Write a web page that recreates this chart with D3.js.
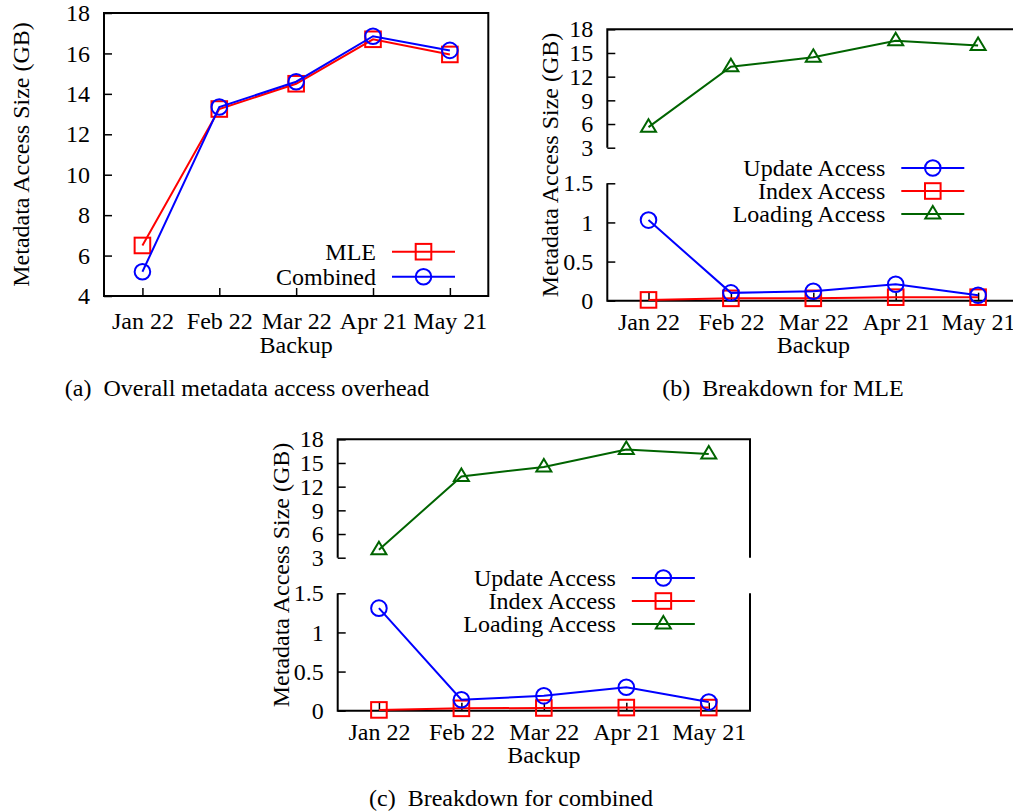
<!DOCTYPE html>
<html>
<head>
<meta charset="utf-8">
<script src="https://cdn.jsdelivr.net/npm/d3@7"></script>
<style>
  body { margin: 0; background: #fff; }
  svg { display: block; font-family: "Liberation Serif", "Times New Roman", serif; }
  .tick line { stroke: #000; stroke-width: 1.5; }
  .tick text { font-family: "Liberation Serif", "Times New Roman", serif; font-size: 24px; fill: #000; }
</style>
</head>
<body>
<svg id="fig" width="1013" height="812"></svg>
<script>
// backups on the x axis
const months = ["Jan 22", "Feb 22", "Mar 22", "Apr 21", "May 21"];

// (a) overall metadata access size (GB)
const mleTotal = [6.5, 13.25, 14.5, 16.7, 15.95];
const combinedTotal = [5.2, 13.35, 14.6, 16.85, 16.15];

// (b) breakdown for MLE
const mleUpdate = [1.03, 0.10, 0.12, 0.21, 0.07];
const mleIndex = [0.01, 0.03, 0.03, 0.045, 0.045];
const mleLoading = [5.6, 13.25, 14.45, 16.55, 15.95];

// (c) breakdown for combined
const combUpdate = [1.31, 0.14, 0.19, 0.30, 0.11];
const combIndex = [0.01, 0.03, 0.035, 0.04, 0.04];
const combLoading = [4.0, 13.3, 14.5, 16.7, 16.15];

// tick values
const ticksA = [4, 6, 8, 10, 12, 14, 16, 18];
const ticksUpper = [3, 6, 9, 12, 15, 18];
const ticksLower = [0, 0.5, 1, 1.5];

const RED = "#ff0000", BLUE = "#0000ff", GREEN = "#006400";
const FS = 24;

const svg = d3.select("#fig");

function marker(g, shape, x, y, color) {
  if (shape === "circle") {
    g.append("circle").attr("cx", x).attr("cy", y).attr("r", 7.8)
      .attr("fill", "none").attr("stroke", color).attr("stroke-width", 2);
  } else if (shape === "square") {
    g.append("rect").attr("x", x - 7.8).attr("y", y - 7.8).attr("width", 15.6).attr("height", 15.6)
      .attr("fill", "none").attr("stroke", color).attr("stroke-width", 2);
  } else {
    g.append("path").attr("d", `M${x},${y - 8} L${x + 7.5},${y + 4.5} L${x - 7.5},${y + 4.5} Z`)
      .attr("fill", "none").attr("stroke", color).attr("stroke-width", 2);
  }
}

function series(g, x, y, values, color, shape) {
  const line = d3.line().x((d, i) => x(months[i])).y(d => y(d));
  g.append("path").datum(values).attr("d", line)
    .attr("fill", "none").attr("stroke", color).attr("stroke-width", 2);
  values.forEach((v, i) => marker(g, shape, x(months[i]), y(v), color));
}

function yAxis(g, y, ticks, left) {
  g.append("g").attr("transform", `translate(${left},0)`)
    .call(d3.axisLeft(y).tickValues(ticks).tickFormat(d => String(d))
      .tickSizeInner(-8).tickSizeOuter(0).tickPadding(14))
    .call(a => a.select(".domain").remove());
}

function xAxis(g, x, bottom, pad) {
  g.append("g").attr("transform", `translate(0,${bottom})`)
    .call(d3.axisBottom(x).tickSizeInner(-8).tickSizeOuter(0).tickPadding(pad))
    .call(a => a.select(".domain").remove());
}

function text(g, x, y, str, anchor, rot) {
  const t = g.append("text").attr("font-size", FS).attr("text-anchor", anchor || "middle").text(str);
  if (rot) t.attr("transform", `translate(${x},${y}) rotate(-90)`);
  else t.attr("x", x).attr("y", y);
  return t;
}

function legend(g, rows, textX, y0, step) {
  rows.forEach((r, i) => {
    const y = y0 + i * step;
    text(g, textX, y, r.name, "end").attr("dy", "0.33em");
    g.append("line").attr("x1", textX + 16).attr("x2", textX + 79).attr("y1", y).attr("y2", y)
      .attr("stroke", r.color).attr("stroke-width", 2);
    marker(g, r.shape, textX + 47.5, y, r.color);
  });
}

// ---------- (a) ----------
{
  const g = svg.append("g");
  const L = 104, R = 488.3, T = 13, B = 296;
  const x = d3.scalePoint().domain(months).range([L, R]).padding(0.5);
  const y = d3.scaleLinear().domain([4, 18]).range([B, T]);
  yAxis(g, y, ticksA, L);
  xAxis(g, x, B, 16);
  g.append("rect").attr("x", L).attr("y", T).attr("width", R - L).attr("height", B - T)
    .attr("fill", "none").attr("stroke", "#000").attr("stroke-width", 2);
  series(g, x, y, mleTotal, RED, "square");
  series(g, x, y, combinedTotal, BLUE, "circle");
  text(g, 28.5, (T + B) / 2, "Metadata Access Size (GB)", "middle", true);
  text(g, (L + R) / 2, 353, "Backup");
  legend(g, [
    { name: "MLE", color: RED, shape: "square" },
    { name: "Combined", color: BLUE, shape: "circle" }
  ], 376, 251.7, 25);
  text(g, 247, 396, "(a)  Overall metadata access overhead").style("white-space", "pre");
}

// broken-axis breakdown panel
function breakdown(ox, oy, right, upd, idx, load, caption, capX, capY) {
  const g = svg.append("g");
  const L = ox, R = right;
  const uT = oy, uB = oy + 118.4, lT = oy + 154, lB = oy + 271.4;
  const x = d3.scalePoint().domain(months).range([L, R]).padding(0.5);
  const yU = d3.scaleLinear().domain([3, 18]).range([uB, uT]);
  const yL = d3.scaleLinear().domain([0, 1.5]).range([lB, lT]);
  yAxis(g, yU, ticksUpper, L);
  yAxis(g, yL, ticksLower, L);
  xAxis(g, x, lB, 12);
  g.append("path").attr("d", `M${L},${uB} V${uT} H${R} V${uB}`)
    .attr("fill", "none").attr("stroke", "#000").attr("stroke-width", 2);
  g.append("path").attr("d", `M${L},${lT} V${lB} H${R} V${lT}`)
    .attr("fill", "none").attr("stroke", "#000").attr("stroke-width", 2);
  series(g, x, yU, load, GREEN, "triangle");
  series(g, x, yL, idx, RED, "square");
  series(g, x, yL, upd, BLUE, "circle");
  text(g, L - 49, (uT + lB) / 2, "Metadata Access Size (GB)", "middle", true);
  text(g, (L + R) / 2, lB + 52.6, "Backup");
  legend(g, [
    { name: "Update Access", color: BLUE, shape: "circle" },
    { name: "Index Access", color: RED, shape: "square" },
    { name: "Loading Access", color: GREEN, shape: "triangle" }
  ], x(months[2]) + 72, uB + 20.3, 23);
  text(g, capX, capY, caption).style("white-space", "pre");
}

breakdown(607.3, 29.3, 1019.3, mleUpdate, mleIndex, mleLoading, "(b)  Breakdown for MLE", 783, 396);
breakdown(337.7, 439.3, 750, combUpdate, combIndex, combLoading, "(c)  Breakdown for combined", 511, 806);
</script>
</body>
</html>
